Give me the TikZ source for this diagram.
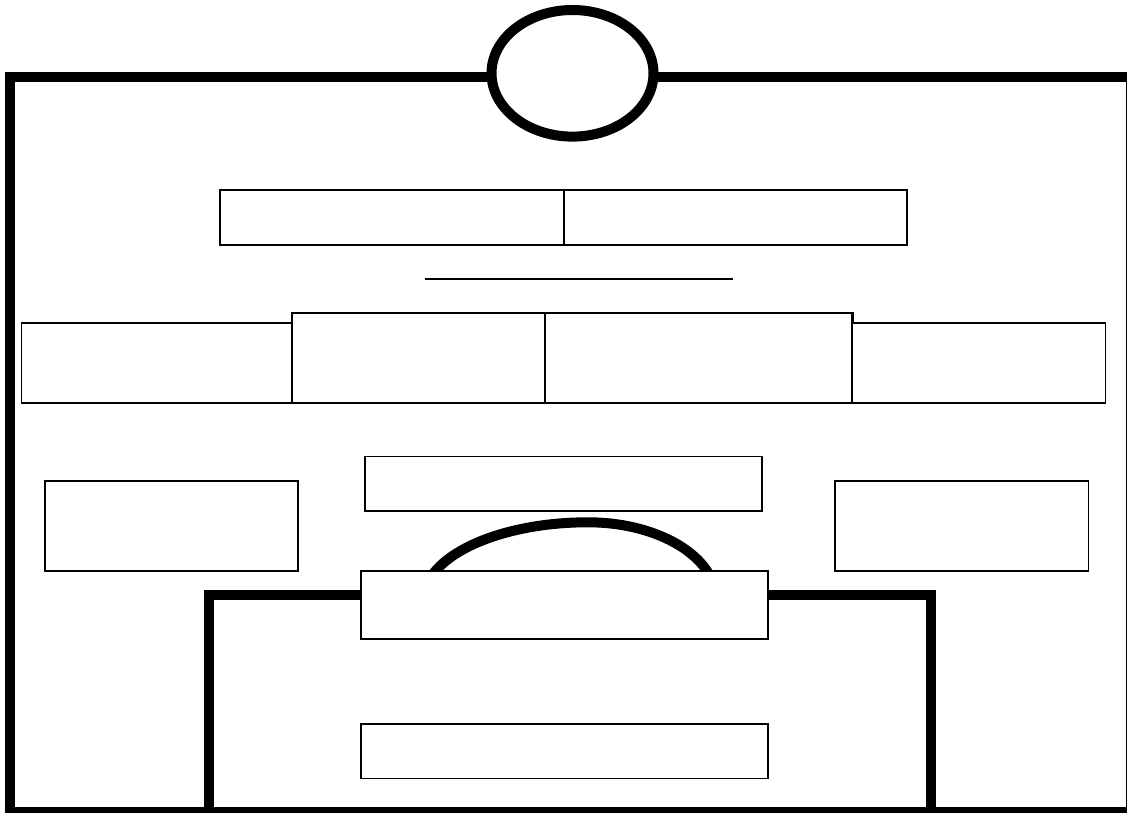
\documentclass[tikz,border=0pt]{standalone}
\usetikzlibrary{shapes.geometric}
\begin{document}
\begin{tikzpicture}[x=1pt,y=-1pt,
  panel/.style={draw=black,line width=1.8pt,fill=white,rectangle,inner sep=0pt,outer sep=0pt},
  thickline/.style={draw=black,line width=10pt},
  hub/.style={draw=black,line width=10pt,fill=white,ellipse,inner sep=0pt,outer sep=0pt}]
\path[use as bounding box] (0,0) rectangle (1127,813);
\clip (0,0) rectangle (1127,813);
\fill[white] (0,0) rectangle (1127,813);
% outer frame
\draw[thickline] (10,77.5) rectangle (1131,812.3);
% top ellipse
\node[hub,minimum width=162pt,minimum height=126.6pt] (top) at (572.5,73.3) {};
% header pair
\node[panel,minimum width=344pt,minimum height=55pt] (t1) at (392,217.5) {};
\node[panel,minimum width=343pt,minimum height=55pt] (t2) at (735.5,217.5) {};
% rule
\coordinate (r1) at (425,279);
\coordinate (r2) at (733,279);
\draw[line width=2pt] (r1) -- (r2);
% second row
\node[panel,minimum width=270.5pt,minimum height=80pt] (a) at (156.75,363) {};
\node[panel,minimum width=253pt,minimum height=90pt] (b) at (418.5,358) {};
\node[panel,line width=2.2pt,minimum width=307.5pt,minimum height=90pt] (c) at (698.75,358) {};
\node[panel,minimum width=253pt,minimum height=80pt] (d) at (979,363) {};
% third row
\node[panel,minimum width=253pt,minimum height=90pt] (e) at (171.5,526) {};
\node[panel,minimum width=397pt,minimum height=54.5pt] (f) at (563.5,483.75) {};
\node[panel,minimum width=253.5pt,minimum height=90pt] (g) at (961.75,526) {};
% arc
\draw[line width=10pt] (423.5,600) .. controls (423.5,557.1) and (497.2,522.3) .. (588,522.3)
  .. controls (658.8,522.3) and (716.3,557.1) .. (716.3,600);
% inner frame
\draw[thickline] (209,812.3) -- (209,595) -- (931,595) -- (931,812.3);
% lower boxes
\node[panel,minimum width=407pt,minimum height=68pt] (h) at (564.5,605) {};
\node[panel,minimum width=407pt,minimum height=54.5pt] (i) at (564.5,751.25) {};
\end{tikzpicture}
\end{document}
